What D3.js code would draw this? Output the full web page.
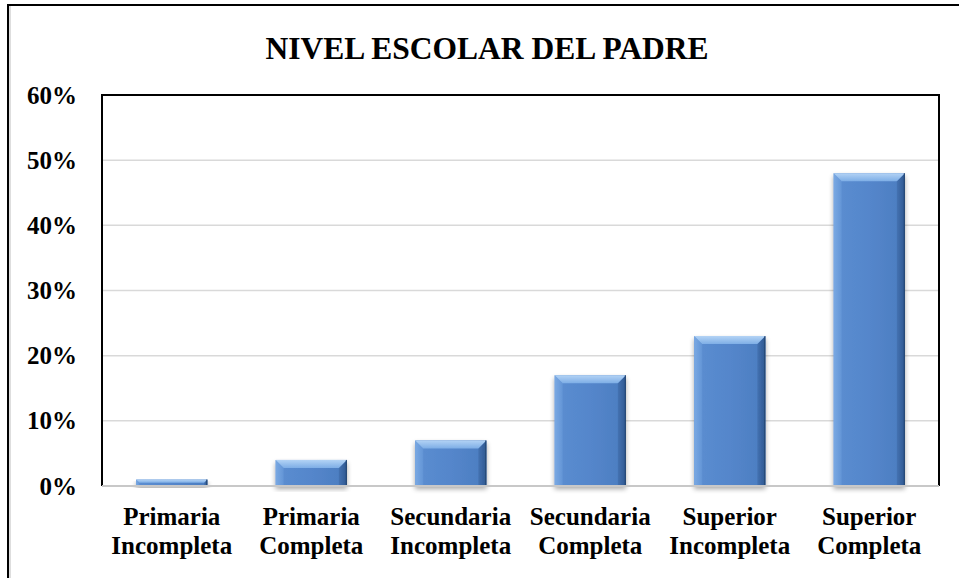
<!DOCTYPE html>
<html>
<head>
<meta charset="utf-8">
<script src="https://cdn.jsdelivr.net/npm/d3@7"></script>
<style>
  html, body { margin: 0; padding: 0; background: #fff; }
  svg { display: block; }
  text { font-family: "Liberation Serif", "Times New Roman", serif; font-weight: bold; fill: #000; }
</style>
</head>
<body>
<svg id="chart" width="959" height="578"></svg>
<script>
// Nivel escolar del padre: share of respondents per category
const categories = [
  ["Primaria", "Incompleta"],
  ["Primaria", "Completa"],
  ["Secundaria", "Incompleta"],
  ["Secundaria", "Completa"],
  ["Superior", "Incompleta"],
  ["Superior", "Completa"]
];
const values = [0.01, 0.04, 0.07, 0.17, 0.23, 0.48];
const yTicks = [0, 0.1, 0.2, 0.3, 0.4, 0.5, 0.6];
const title = "NIVEL ESCOLAR DEL PADRE";

const svg = d3.select("#chart");
const plot = { left: 102, right: 939, top: 95, bottom: 486 };

const defs = svg.append("defs");

function grad(id, horizontal, stops) {
  const g = defs.append("linearGradient").attr("id", id)
    .attr("x1", 0).attr("y1", 0).attr("x2", horizontal ? 1 : 0).attr("y2", horizontal ? 0 : 1);
  stops.forEach(([o, c]) => g.append("stop").attr("offset", o).attr("stop-color", c));
}
grad("gBody", true, [["0%", "#5c8ed1"], ["50%", "#5486cb"], ["100%", "#4c7dc0"]]);
grad("gTop", false, [["0%", "#b3d3f5"], ["100%", "#7eaee6"]]);
grad("gLeft", true, [["0%", "#7aa9e3"], ["100%", "#6395d6"]]);
grad("gRight", true, [["0%", "#4472b2"], ["100%", "#2f5890"]]);

// soft shadow under each bar
const shadow = defs.append("filter").attr("id", "shadow")
  .attr("x", "-20%").attr("y", "-20%").attr("width", "140%").attr("height", "140%");
shadow.append("feGaussianBlur").attr("in", "SourceAlpha").attr("stdDeviation", 2.5).attr("result", "b");
shadow.append("feOffset").attr("in", "b").attr("dx", 0).attr("dy", 3).attr("result", "o");
shadow.append("feComponentTransfer").attr("in", "o").attr("result", "s")
  .append("feFuncA").attr("type", "linear").attr("slope", 0.35);
const merge = shadow.append("feMerge");
merge.append("feMergeNode").attr("in", "s");
merge.append("feMergeNode").attr("in", "SourceGraphic");

// outer frame
svg.append("line").attr("x1", 8).attr("x2", 8).attr("y1", 4).attr("y2", 578)
  .attr("stroke", "#000").attr("stroke-width", 2);
svg.append("line").attr("x1", 10).attr("x2", 10).attr("y1", 6).attr("y2", 578)
  .attr("stroke", "#bdbdbd").attr("stroke-width", 1);
svg.append("line").attr("x1", 7).attr("x2", 959).attr("y1", 5).attr("y2", 5)
  .attr("stroke", "#000").attr("stroke-width", 2);

const x = d3.scaleBand().domain(d3.range(categories.length))
  .range([plot.left, plot.right]).paddingInner(0.49).paddingOuter(0.245);
const y = d3.scaleLinear().domain([0, 0.6]).range([plot.bottom, plot.top]);

// gridlines
svg.append("g").selectAll("line").data(yTicks.filter(d => d > 0 && d < 0.6)).join("line")
  .attr("x1", plot.left).attr("x2", plot.right)
  .attr("y1", d => y(d)).attr("y2", d => y(d))
  .attr("stroke", "#d9d9d9").attr("stroke-width", 1.5);

// plot frame
svg.append("path")
  .attr("d", `M${plot.left},${plot.bottom}V${plot.top}H${plot.right}V${plot.bottom}`)
  .attr("fill", "none").attr("stroke", "#000").attr("stroke-width", 2);

// bars with angled bevel
const bev = 8;
const bars = svg.append("g").selectAll("g").data(values).join("g")
  .attr("filter", "url(#shadow)");
bars.each(function (v, i) {
  const g = d3.select(this);
  const x0 = x(i), w = x.bandwidth(), x1 = x0 + w;
  const y0 = y(v), y1 = y(0);
  const b = Math.min(bev, (y1 - y0) / 2, w / 2);
  g.append("rect").attr("x", x0).attr("y", y0).attr("width", w).attr("height", y1 - y0)
    .attr("fill", "url(#gBody)");
  g.append("path").attr("d", `M${x0},${y0}L${x0 + b},${y0 + b}V${y1}H${x0}Z`).attr("fill", "url(#gLeft)");
  g.append("path").attr("d", `M${x1},${y0}L${x1 - b},${y0 + b}V${y1}H${x1}Z`).attr("fill", "url(#gRight)");
  g.append("path").attr("d", `M${x0},${y0}H${x1}L${x1 - b},${y0 + b}H${x0 + b}Z`).attr("fill", "url(#gTop)");
  g.append("line").attr("x1", x1 - 0.5).attr("x2", x1 - 0.5).attr("y1", y0).attr("y2", y1)
    .attr("stroke", "#24456f").attr("stroke-width", 1);
});

// x axis line
svg.append("line").attr("x1", plot.left).attr("x2", plot.right)
  .attr("y1", plot.bottom).attr("y2", plot.bottom)
  .attr("stroke", "#c8c8c8").attr("stroke-width", 2);

// y tick labels
svg.append("g").selectAll("text").data(yTicks).join("text")
  .attr("x", 77).attr("y", d => y(d))
  .attr("text-anchor", "end").attr("dominant-baseline", "central")
  .style("font-size", "25px")
  .text(d => d3.format(".0%")(d));

// x category labels
const xl = svg.append("g").selectAll("text").data(categories).join("text")
  .attr("text-anchor", "middle")
  .style("font-size", "25px");
xl.each(function (c, i) {
  const t = d3.select(this);
  const cx = x(i) + x.bandwidth() / 2;
  c.forEach((line, k) => {
    t.append("tspan").attr("x", cx).attr("y", 525 + k * 29).text(line);
  });
});

// title
svg.append("text").attr("x", 487).attr("y", 59)
  .attr("text-anchor", "middle").style("font-size", "31.5px")
  .text(title);
</script>
</body>
</html>
